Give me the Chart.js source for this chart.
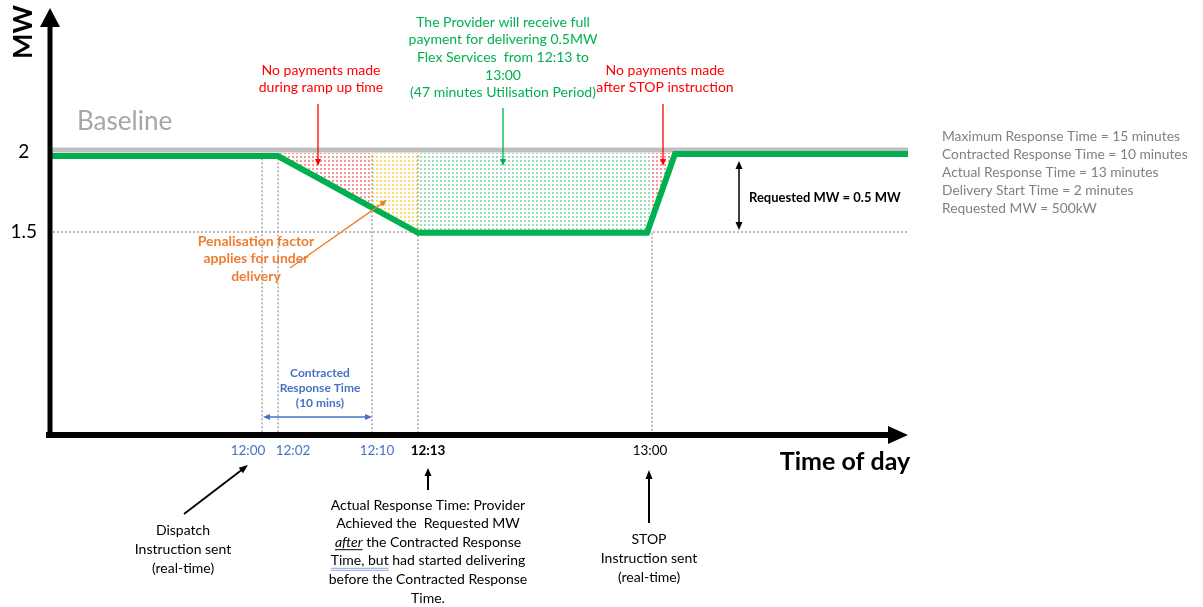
<!DOCTYPE html>
<html>
<head>
<meta charset="utf-8">
<script src="https://cdn.jsdelivr.net/npm/chart.js@4.4.0/dist/chart.umd.min.js"></script>
<style>
html, body { margin: 0; padding: 0; background: #fff; }
#wrap { width: 1203px; height: 607px; }
</style>
</head>
<body>
<div id="wrap"><canvas id="flexChart"></canvas></div>
<script>
// x is a schematic time axis (0 = MW axis, 100 = arrow tip), not to scale in minutes
var timeLabels = ['12:00', '12:02', '12:10', '12:13', '13:00'];
var timePos = [24.8, 26.66, 37.6, 42.96, 70.2];
var yTicks = [1.5, 2];
var yMin = 0.23125, yMax = 2.8875;

var baselineX = [0, 100];
var baselineY = [2.0125, 2.0125];

var deliveryX = [0, 26.66, 42.96, 69.62, 72.87, 100];
var deliveryY = [1.975, 1.975, 1.495, 1.495, 1.9875, 1.9875];

// shaded areas between the baseline and the delivered MW
var shadeTop = 1.994;
var rampUpX = [26.66, 37.6];
var rampUpY = [1.975, 1.652];
var penaltyX = [37.6, 42.96];
var penaltyY = [1.652, 1.495];
var utilX = [42.96, 69.62, 70.2];
var utilY = [1.495, 1.495, 1.583];
var afterStopX = [70.2, 72.87];
var afterStopY = [1.583, 1.9875];

// where each dotted guide starts (it runs down to the time axis)
var guideTop = [1.96, 1.96, 1.98, 1.98, 1.495];
var requestedLevel = 1.5;

var FONT = 'Lato, "Open Sans", sans-serif';
var GREEN = '#00B050', RED = '#FF0000', ORANGE = '#ED7D31', BLUE = '#4472C4', GREY = '#808080';

var canvas = document.getElementById('flexChart');
var ctx = canvas.getContext('2d');

function pts(xs, ys) {
    return xs.map(function(x, i) { return {x: x, y: ys[i]}; });
}

// 2x2 dots so the colour survives the screenshot
function dots(color) {
    var c = document.createElement('canvas');
    c.width = 4; c.height = 4;
    var g = c.getContext('2d');
    g.fillStyle = color;
    g.fillRect(0, 0, 2, 2);
    return ctx.createPattern(c, 'repeat');
}

function hidden(extra) {
    var d = {borderColor: 'rgba(0,0,0,0)', borderWidth: 1, pointRadius: 0, fill: false, order: 5};
    for (var k in extra) d[k] = extra[k];
    return d;
}

var datasets = [
    {label: 'Delivered MW', data: pts(deliveryX, deliveryY), borderColor: GREEN, borderWidth: 6,
     pointRadius: 0, fill: false, order: 0, borderJoinStyle: 'miter'},
    {label: 'Baseline', data: pts(baselineX, baselineY), borderColor: '#BFBFBF', borderWidth: 5,
     pointRadius: 0, fill: false, order: 1}
];

function addShade(xs, ys, color) {
    datasets.push(hidden({data: pts(xs, xs.map(function() { return shadeTop; })), fill: '+1', backgroundColor: dots(color)}));
    datasets.push(hidden({data: pts(xs, ys)}));
}
addShade(rampUpX, rampUpY, 'rgba(255,0,0,0.42)');
addShade(penaltyX, penaltyY, 'rgba(255,192,0,0.55)');
addShade(utilX, utilY, 'rgba(0,176,80,0.4)');
addShade(afterStopX, afterStopY, 'rgba(255,0,0,0.42)');

timePos.forEach(function(x, i) {
    datasets.push({data: [{x: x, y: guideTop[i]}, {x: x, y: yMin}], borderColor: '#A6A6A6', borderWidth: 1.5,
                   borderDash: [2, 2], pointRadius: 0, fill: false, order: 3});
});
datasets.push({data: [{x: 0, y: requestedLevel}, {x: 100, y: requestedLevel}], borderColor: '#A6A6A6', borderWidth: 1.5,
               borderDash: [2, 2], pointRadius: 0, fill: false, order: 3});

function arrow(c, x1, y1, x2, y2, color, width, len, half) {
    var a = Math.atan2(y2 - y1, x2 - x1);
    var cs = Math.cos(a), sn = Math.sin(a);
    c.strokeStyle = color; c.fillStyle = color; c.lineWidth = width;
    c.beginPath(); c.moveTo(x1, y1); c.lineTo(x2 - cs * len * 0.9, y2 - sn * len * 0.9); c.stroke();
    c.beginPath(); c.moveTo(x2, y2);
    c.lineTo(x2 - cs * len - sn * half, y2 - sn * len + cs * half);
    c.lineTo(x2 - cs * len + sn * half, y2 - sn * len - cs * half);
    c.closePath(); c.fill();
}

function lines(c, arr, x, y, lh, font, color, align) {
    c.font = font; c.fillStyle = color; c.textAlign = align || 'center'; c.textBaseline = 'middle';
    arr.forEach(function(t, i) { c.fillText(t, x, y + i * lh); });
}

var annotations = {
    id: 'annotations',
    afterDatasetsDraw: function(chart) {
        var c = chart.ctx, xs = chart.scales.x;
        c.save();

        // axes with arrow heads
        c.fillStyle = '#000';
        c.fillRect(47.5, 26, 5, 412);
        c.fillRect(46, 432, 846, 6);
        arrow(c, 50, 30, 50, 8, '#000', 1, 19, 10);
        arrow(c, 885, 435, 908, 435, '#000', 1, 20, 9);

        c.save();
        c.translate(23, 32); c.rotate(-Math.PI / 2);
        lines(c, ['MW'], 0, 0, 0, 'bold 27px ' + FONT, '#000');
        c.restore();
        lines(c, ['Time of day'], 845, 462, 0, 'bold 25px ' + FONT, '#000');
        lines(c, ['Baseline'], 77, 122, 0, '26px ' + FONT, '#A6A6A6', 'left');

        // time labels under the axis
        var offs = [-14, 15, 5, 10, -2];
        timeLabels.forEach(function(t, i) {
            var bold = i === 3;
            lines(c, [t], xs.getPixelForValue(timePos[i]) + offs[i], 451, 0,
                  (bold ? 'bold ' : '') + '13.5px ' + FONT, i < 3 ? BLUE : '#000');
        });

        // payment notes
        lines(c, ['No payments made', 'during ramp up time'], 321, 70, 17.5, '14px ' + FONT, RED);
        arrow(c, 318, 104, 318, 166, RED, 1.3, 7, 3);
        lines(c, ['The Provider will receive full', 'payment for delivering 0.5MW', 'Flex Services  from 12:13 to',
                  '13:00', '(47 minutes Utilisation Period)'], 503, 22, 17.7, '14px ' + FONT, GREEN);
        arrow(c, 503, 108, 503, 166, GREEN, 1.3, 7, 3);
        lines(c, ['No payments made', 'after STOP instruction'], 665, 70, 17.5, '14px ' + FONT, RED);
        arrow(c, 663, 104, 663, 166, RED, 1.3, 7, 3);

        lines(c, ['Penalisation factor', 'applies for under', 'delivery'], 256, 241, 17.5, 'bold 14px ' + FONT, ORANGE);
        arrow(c, 290, 268, 387, 200, ORANGE, 1.3, 7, 3);

        // requested MW bracket
        arrow(c, 739, 195, 739, 161, '#000', 1.5, 8, 3.5);
        arrow(c, 739, 195, 739, 230, '#000', 1.5, 8, 3.5);
        lines(c, ['Requested MW = 0.5 MW'], 749, 198, 0, 'bold 13px ' + FONT, '#000', 'left');

        lines(c, ['Maximum Response Time = 15 minutes', 'Contracted Response Time = 10 minutes',
                  'Actual Response Time = 13 minutes', 'Delivery Start Time = 2 minutes',
                  'Requested MW = 500kW'], 942, 137, 18, '13.8px ' + FONT, GREY, 'left');

        // contracted response window
        lines(c, ['Contracted', 'Response Time', '(10 mins)'], 320, 373, 15, 'bold 12px ' + FONT, BLUE);
        arrow(c, 318, 417, 263, 417, BLUE, 1.3, 7, 3);
        arrow(c, 318, 417, 372, 417, BLUE, 1.3, 7, 3);

        // notes below the axis
        arrow(c, 184, 514, 248, 465, '#000', 1.8, 9, 3.5);
        lines(c, ['Dispatch', 'Instruction sent', '(real-time)'], 183, 530, 19, '14px ' + FONT, '#000');

        arrow(c, 428, 490, 428, 468, '#000', 2, 8, 3.5);
        var f = '14px ' + FONT;
        lines(c, ['Actual Response Time: Provider', 'Achieved the  Requested MW'], 428, 505, 18.6, f, '#000');
        c.font = 'italic 14px ' + FONT;
        var wA = c.measureText('after').width;
        c.font = f;
        var rest = ' the Contracted Response';
        var wR = c.measureText(rest).width;
        var x0 = 428 - (wA + wR) / 2, y3 = 505 + 2 * 18.6;
        c.textAlign = 'left';
        c.font = 'italic 14px ' + FONT; c.fillText('after', x0, y3);
        c.fillRect(x0, y3 + 7, wA, 1);
        c.font = f; c.fillText(rest, x0 + wA, y3);
        lines(c, ['Time, but had started delivering', 'before the Contracted Response', 'Time.'], 428, 505 + 3 * 18.6, 18.6, f, '#000');
        c.font = f;
        var w4 = c.measureText('Time, but had started delivering').width, wT = c.measureText('Time, but').width;
        c.fillStyle = '#8FAADC';
        c.fillRect(428 - w4 / 2, 505 + 3 * 18.6 + 7, wT, 1);
        c.fillRect(428 - w4 / 2, 505 + 3 * 18.6 + 9, wT, 1);

        arrow(c, 649, 523, 649, 470, '#000', 2, 9, 3.5);
        lines(c, ['STOP', 'Instruction sent', '(real-time)'], 649, 539, 19, '14px ' + FONT, '#000');

        c.restore();
    }
};

new Chart(ctx, {
    type: 'line',
    data: {datasets: datasets},
    options: {
        responsive: true,
        maintainAspectRatio: false,
        animation: false,
        layout: {padding: {top: 10, right: 295, bottom: 172, left: 0}},
        scales: {
            x: {type: 'linear', min: 0, max: 100, display: false},
            y: {
                type: 'linear', min: yMin, max: yMax,
                grid: {display: false},
                border: {display: false},
                afterFit: function(s) { s.width = 49; s.paddingTop = 0; s.paddingBottom = 0; },
                afterBuildTicks: function(s) { s.ticks = yTicks.map(function(v) { return {value: v}; }); },
                ticks: {color: '#000', font: {family: FONT, size: 19}, crossAlign: 'center', padding: 4,
                        callback: function(v) { return String(v); }}
            }
        },
        plugins: {
            legend: {display: false},
            tooltip: {enabled: false}
        }
    },
    plugins: [annotations]
});
</script>
</body>
</html>
